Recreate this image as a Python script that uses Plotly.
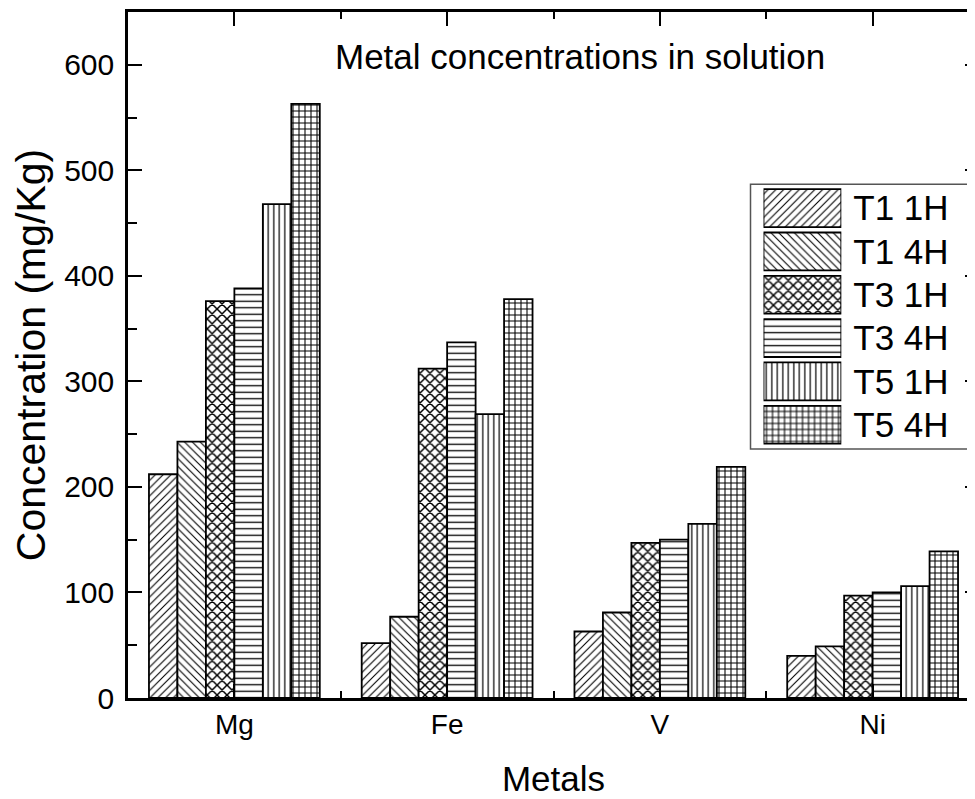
import plotly.graph_objects as go

# ---------------- data ----------------
metals = ["Mg", "Fe", "V", "Ni"]
series_names = ["T1 1H", "T1 4H", "T3 1H", "T3 4H", "T5 1H", "T5 4H"]
t1_1h = [212, 52, 63, 40]
t1_4h = [243, 77, 81, 49]
t3_1h = [376, 312, 147, 97]
t3_4h = [388, 337, 150, 100]
t5_1h = [468, 269, 165, 106]
t5_4h = [563, 378, 219, 139]
y_ticks = [0, 100, 200, 300, 400, 500, 600]

series_values = [t1_1h, t1_4h, t3_1h, t3_4h, t5_1h, t5_4h]

# ---------------- styles ----------------
patterns = ["/", "\\", "x", "-", "|", "+"]
pattern_sizes = [5.5, 5.5, 7, 6.5, 5.5, 6]
pattern_solid = [0.2, 0.2, 0.38, 0.2, 0.22, 0.32]
FONT = "Liberation Sans, Arial, sans-serif"

x_idx = list(range(len(metals)))
minor_x = [i + 0.5 for i in x_idx[:-1]]

fig = go.Figure()
for name, vals, pat, ps, sol in zip(series_names, series_values, patterns,
                                    pattern_sizes, pattern_solid):
    fig.add_trace(go.Bar(
        x=x_idx, y=vals, name=name, showlegend=False,
        marker=dict(color="white",
                    line=dict(color="black", width=1.8),
                    pattern=dict(shape=pat, size=ps, solidity=sol,
                                 fgcolor="black", bgcolor="white",
                                 fillmode="replace")),
        hoverinfo="skip"))

# custom legend drawn as bars on a small hidden subplot
fig.add_trace(go.Bar(
    y=series_names, x=[1] * len(series_names), orientation="h",
    xaxis="x3", yaxis="y3", width=0.874, showlegend=False,
    marker=dict(color="white",
                line=dict(color="black", width=1.8),
                pattern=dict(shape=patterns, size=pattern_sizes,
                             solidity=pattern_solid, fgcolor="black",
                             bgcolor="white", fillmode="replace")),
    hoverinfo="skip"))

fig.update_layout(
    width=975, height=799,
    margin=dict(l=120, r=2, t=1, b=109),
    paper_bgcolor="white", plot_bgcolor="white",
    font=dict(family=FONT, color="black", size=28),
    barmode="group", bargap=0.197, bargroupgap=0,
    showlegend=False,
    xaxis=dict(
        range=[-0.5, 3.5], tickmode="array", tickvals=x_idx,
        ticktext=metals, tickfont=dict(size=28),
        showline=True, linecolor="black", linewidth=2.5, mirror="ticks",
        ticks="inside", ticklen=14, tickwidth=2, tickcolor="black",
        minor=dict(tickmode="array", tickvals=minor_x, ticks="inside",
                   ticklen=7, tickwidth=2, tickcolor="black"),
        showgrid=False, zeroline=False,
        title=dict(text="Metals", font=dict(size=35), standoff=28),
    ),
    yaxis=dict(
        range=[0, 650], tickmode="array", tickvals=y_ticks,
        tickfont=dict(size=30), ticklabelstandoff=5,
        showline=True, linecolor="black", linewidth=2.5, mirror="ticks",
        ticks="inside", ticklen=14, tickwidth=2, tickcolor="black",
        minor=dict(dtick=50, ticks="inside", ticklen=9, tickwidth=2,
                   tickcolor="black"),
        showgrid=False, zeroline=False,
        title=dict(text="Concentration (mg/Kg)", font=dict(size=41),
                   standoff=10),
    ),
    xaxis3=dict(domain=[0.7468, 0.8382], anchor="y3", range=[0, 1],
                visible=False, fixedrange=True),
    yaxis3=dict(domain=[0.3668, 0.7457], anchor="x3", type="category",
                autorange="reversed", side="right", showline=False,
                ticks="", showgrid=False, zeroline=False,
                tickfont=dict(size=35), ticklabelstandoff=11),
    shapes=[dict(type="rect", xref="paper", yref="paper",
                 x0=0.7315, x1=0.9871, y0=0.3628, y1=0.7489,
                 line=dict(color="#555555", width=1.5), layer="below")],
    annotations=[dict(text="Metal concentrations in solution",
                      xref="paper", yref="paper", x=0.5317, y=0.935,
                      xanchor="center", yanchor="middle", showarrow=False,
                      font=dict(size=35))],
)

fig.write_html("out.html")
